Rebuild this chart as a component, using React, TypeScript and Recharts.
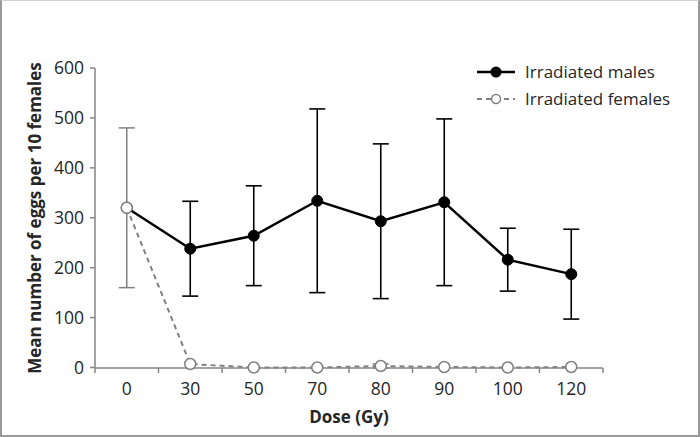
import React from "react";
import {
  ComposedChart,
  Line,
  XAxis,
  YAxis,
  ErrorBar,
} from "recharts";

const DOSES = ["0", "30", "50", "70", "80", "90", "100", "120"];
const MALES = [320, 238, 264, 334, 293, 331, 216, 187];
const MALES_ERR = [null, 95, 100, 184, 155, 167, 63, 90];
const FEMALES = [320, 7, 0, 0, 3, 1, 0, 1];
const FEMALES_ERR = [160, 0, 0, 0, 4, 0, 0, 0];
const Y_TICKS = [0, 100, 200, 300, 400, 500, 600];

const FONT = "'Open Sans', sans-serif";
const AXIS = "#868686";
const TEXT = "#262626";

const data = DOSES.map((d, i) => ({
  i,
  dose: d,
  males: MALES[i],
  malesErr: MALES_ERR[i],
  females: FEMALES[i],
  femalesErr: FEMALES_ERR[i],
}));

// labels sit on the categories, tick marks between them
const xTicks: number[] = [];
for (let k = 0; k <= DOSES.length; k++) {
  xTicks.push(k - 0.5);
  if (k < DOSES.length) xTicks.push(k);
}

const XTick = (props: any) => {
  const { x, y, payload } = props;
  const v = payload.value;
  if (Number.isInteger(v)) {
    return (
      <text x={x} y={y + 19} textAnchor="middle" fontSize={17.5} fill={TEXT} fontFamily={FONT}>
        {DOSES[v]}
      </text>
    );
  }
  return <line x1={x} x2={x} y1={y - 8} y2={y - 3} stroke={AXIS} strokeWidth={1.5} />;
};

const LegendBox = () => (
  <svg width={230} height={60} style={{ position: "absolute", left: 475, top: 60 }}>
    <line x1={2} x2={40} y1={12} y2={12} stroke="#000" strokeWidth={2.5} />
    <circle cx={21} cy={12} r={5.5} fill="#000" />
    <text x={50} y={18} fontSize={17} fill={TEXT} fontFamily={FONT}>
      Irradiated males
    </text>
    <line x1={2} x2={40} y1={39} y2={39} stroke="#808080" strokeWidth={2} strokeDasharray="5 4" />
    <circle cx={21} cy={39} r={4.5} fill="#fff" stroke="#808080" strokeWidth={1.5} />
    <text x={50} y={45} fontSize={17} fill={TEXT} fontFamily={FONT}>
      Irradiated females
    </text>
  </svg>
);

export default function App() {
  return (
    <div style={{ position: "absolute", left: 0, top: 0, width: 700, height: 437, background: "#fff" }}>
      <ComposedChart
        width={700}
        height={437}
        data={data}
        margin={{ top: 68, right: 97, bottom: 0, left: 0 }}
      >
        <XAxis
          dataKey="i"
          type="number"
          domain={[-0.5, DOSES.length - 0.5]}
          ticks={xTicks}
          interval={0}
          tickLine={false}
          tickSize={5}
          tickMargin={3}
          tick={<XTick />}
          height={69}
          stroke={AXIS}
          strokeWidth={1.5}
          label={{
            content: (p: any) => (
              <text
                x={p.viewBox.x + p.viewBox.width / 2}
                y={p.viewBox.y + 55}
                textAnchor="middle"
                fontSize={17}
                fontWeight="bold"
                fill={TEXT}
                fontFamily={FONT}
              >
                Dose (Gy)
              </text>
            ),
          }}
        />
        <YAxis
          domain={[0, 600]}
          ticks={Y_TICKS}
          interval={0}
          width={95}
          tickSize={5}
          tickMargin={6}
          stroke={AXIS}
          strokeWidth={1.5}
          tick={{ fontSize: 17.5, fill: TEXT, fontFamily: FONT }}
          label={{
            content: (p: any) => {
              const cy = p.viewBox.y + p.viewBox.height / 2;
              return (
                <text
                  x={34}
                  y={cy}
                  transform={`rotate(-90 34 ${cy})`}
                  textAnchor="middle"
                  dominantBaseline="central"
                  fontSize={17}
                  fontWeight="bold"
                  fill={TEXT}
                  fontFamily={FONT}
                >
                  Mean number of eggs per 10 females
                </text>
              );
            },
          }}
        />
        <Line
          dataKey="males"
          name="Irradiated males"
          stroke="#000"
          strokeWidth={2.5}
          dot={{ r: 5.5, fill: "#000", stroke: "#000", strokeWidth: 1 }}
          isAnimationActive={false}
        >
          <ErrorBar dataKey="malesErr" width={8} stroke="#000" strokeWidth={1.6} />
        </Line>
        <Line
          dataKey="females"
          name="Irradiated females"
          stroke="#808080"
          strokeWidth={2}
          strokeDasharray="5 4"
          dot={{ r: 5.5, fill: "#fff", stroke: "#808080", strokeWidth: 1.5, strokeDasharray: "0" }}
          isAnimationActive={false}
        >
          <ErrorBar dataKey="femalesErr" width={8} stroke="#808080" strokeWidth={1.5} />
        </Line>
      </ComposedChart>
      <LegendBox />
      <div
        style={{
          position: "absolute",
          inset: 0,
          boxSizing: "border-box",
          borderLeft: "2px solid #9a9a9a",
          borderRight: "2px solid #9a9a9a",
          borderBottom: "2px solid #9a9a9a",
          borderTop: "1px solid #d0d0d0",
          pointerEvents: "none",
        }}
      />
    </div>
  );
}
